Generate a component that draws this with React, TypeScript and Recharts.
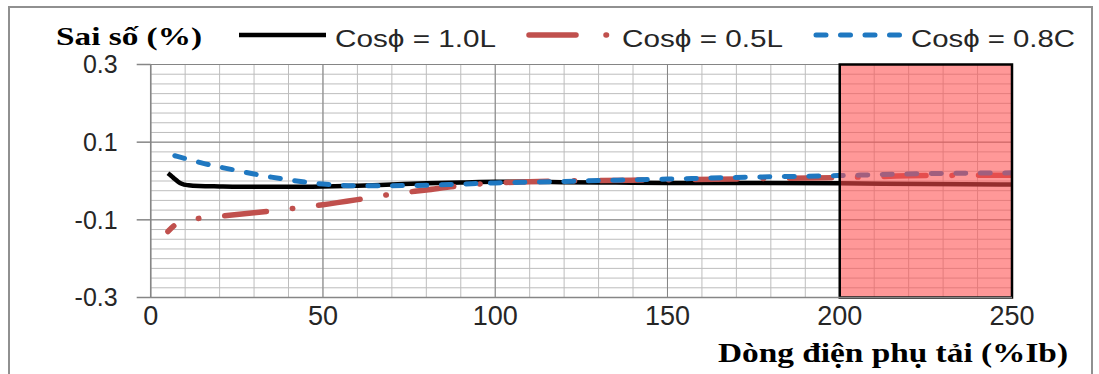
import React from "react";
import { LineChart, Line, XAxis, YAxis, CartesianGrid, ReferenceArea } from "recharts";

// Cosϕ = 1.0L
const blackX = [5, 6, 7, 8, 9, 11, 14, 20, 30, 40, 50, 60, 70, 80, 90, 100, 110, 120, 135, 150, 175, 200, 225, 250];
const blackY = [0.02, 0.013, 0.005, -0.002, -0.007, -0.011, -0.013, -0.014, -0.015, -0.015, -0.014, -0.012, -0.009, -0.006, -0.004, -0.002, -0.002, -0.003, -0.004, -0.005, -0.005, -0.006, -0.008, -0.009];
// Cosϕ = 0.5L
const redX = [5, 8, 10, 15, 20, 30, 40, 50, 60, 70, 80, 90, 100, 110, 120, 150, 175, 200, 225, 250];
const redY = [-0.13, -0.108, -0.103, -0.095, -0.091, -0.082, -0.072, -0.061, -0.048, -0.034, -0.023, -0.012, -0.005, -0.002, 0.0, 0.003, 0.006, 0.009, 0.014, 0.015];
// Cosϕ = 0.8C
const blueX = [7, 10, 15, 20, 25, 30, 35, 40, 45, 50, 55, 60, 70, 80, 90, 100, 110, 120, 130, 150, 175, 200, 225, 250];
const blueY = [0.065, 0.058, 0.046, 0.036, 0.027, 0.018, 0.01, 0.003, -0.003, -0.008, -0.011, -0.012, -0.012, -0.011, -0.008, -0.005, -0.003, -0.001, 0.001, 0.005, 0.01, 0.014, 0.019, 0.021];

const xMajorTicks = [0, 50, 100, 150, 200, 250];
const xMinorTicks = [0, 10, 20, 30, 40, 50, 60, 70, 80, 90, 100, 110, 120, 130, 140, 150, 160, 170, 180, 190, 200, 210, 220, 230, 240, 250];
const yMajorTicks = [-0.3, -0.1, 0.1, 0.3];
const yMinorTicks = [-0.3, -0.275, -0.25, -0.225, -0.2, -0.175, -0.15, -0.125, -0.1, -0.075, -0.05, -0.025, 0, 0.025, 0.05, 0.075, 0.1, 0.125, 0.15, 0.175, 0.2, 0.225, 0.25, 0.275, 0.3];

const zoneStart = 200;
const zoneEnd = 250;

const toPoints = (xs: number[], ys: number[]) => xs.map((x, i) => ({ x, y: ys[i] }));
const blackData = toPoints(blackX, blackY);
const redData = toPoints(redX, redY);
const blueData = toPoints(blueX, blueY);

const SANS = "'Liberation Sans', Arial, sans-serif";
const SERIF = "'Liberation Serif', 'Times New Roman', serif";
const BLACK = "#000000";
const RED = "#c0504d";
const BLUE = "#1f78c1";
const AXIS = "#868686";

const isMajor = (list: number[], v: number) => list.some((m) => Math.abs(m - v) < 1e-9);

const YTick = (props: any) => {
  const { x, y, payload } = props;
  const v = Number(payload.value);
  if (!isMajor(yMajorTicks, v)) return null;
  return (
    <g>
      <line x1={x + 19} y1={y} x2={x + 33} y2={y} stroke={AXIS} strokeWidth={1.5} />
      <text x={x} y={y} dy="0.355em" textAnchor="end" fontSize={25} fill="#262626" fontFamily={SANS}>
        {v.toFixed(1)}
      </text>
    </g>
  );
};

const XTick = (props: any) => {
  const { x, y, payload } = props;
  const v = Number(payload.value);
  if (!isMajor(xMajorTicks, v)) return null;
  return (
    <text x={x} y={y} dy="0.71em" textAnchor="middle" fontSize={27} fill="#262626" fontFamily={SANS}>
      {String(v)}
    </text>
  );
};

export default function App() {
  return (
    <div style={{ position: "absolute", left: 0, top: 0, width: 1099, height: 374, overflow: "hidden", background: "#fff" }}>
      <div style={{ position: "absolute", left: 8, top: 6, width: 1081, height: 380, border: "2px solid #909090" }} />
      <div style={{ position: "absolute", left: 0, top: 0 }}>
        <LineChart width={1099} height={374} margin={{ top: 64.5, right: 87, bottom: 46.5, left: 0 }}>
          <CartesianGrid stroke="#bdbdbd" strokeWidth={1} />
          <CartesianGrid stroke="#858585" strokeWidth={1} horizontalValues={yMajorTicks} verticalValues={xMajorTicks} />
          <XAxis
            type="number"
            dataKey="x"
            domain={[0, 250]}
            ticks={xMinorTicks}
            interval={0}
            height={30}
            tickLine={false}
            tickSize={0}
            tickMargin={8}
            axisLine={{ stroke: AXIS, strokeWidth: 1.5 }}
            tick={<XTick />}
            allowDataOverflow
          />
          <YAxis
            type="number"
            domain={[-0.3, 0.3]}
            ticks={yMinorTicks}
            interval={0}
            width={150.7}
            tickSize={14}
            tickMargin={19}
            tickLine={false}
            axisLine={{ stroke: AXIS, strokeWidth: 1.5 }}
            tick={<YTick />}
            allowDataOverflow
          />
          <Line data={blackData} dataKey="y" type="monotone" stroke={BLACK} strokeWidth={4.5} dot={false} activeDot={false} isAnimationActive={false} />
          <Line
            data={redData}
            dataKey="y"
            type="monotone"
            stroke={RED}
            strokeWidth={5.5}
            strokeDasharray="42 26 0.5 26"
            strokeDashoffset={34}
            strokeLinecap="round"
            dot={false}
            activeDot={false}
            isAnimationActive={false}
          />
          <Line
            data={blueData}
            dataKey="y"
            type="monotone"
            stroke={BLUE}
            strokeWidth={5}
            strokeDasharray="10 14.5"
            strokeLinecap="round"
            dot={false}
            activeDot={false}
            isAnimationActive={false}
          />
          <ReferenceArea
            x1={zoneStart}
            x2={zoneEnd}
            y1={-0.3}
            y2={0.3}
            fill="#ff4d4d"
            fillOpacity={0.58}
            stroke="#000"
            strokeWidth={2.5}
            zIndex={450}
          />
        </LineChart>
      </div>
      <svg width={1099} height={374} style={{ position: "absolute", left: 0, top: 0, pointerEvents: "none" }}>
        <text x={56} y={45} fontFamily={SERIF} fontWeight="bold" fontSize={25} fill="#000" textLength={146} lengthAdjust="spacingAndGlyphs">
          Sai số (%)
        </text>
        <line x1={239} y1={35} x2={326} y2={35} stroke={BLACK} strokeWidth={4.5} />
        <text x={335} y={47} fontFamily={SANS} fontSize={24} fill="#262626" textLength={161} lengthAdjust="spacingAndGlyphs">
          Cosϕ = 1.0L
        </text>
        <line x1={529} y1={35} x2={576} y2={35} stroke={RED} strokeWidth={5.5} strokeLinecap="round" />
        <line x1={606} y1={35} x2={606.5} y2={35} stroke={RED} strokeWidth={5.5} strokeLinecap="round" />
        <text x={622} y={47} fontFamily={SANS} fontSize={24} fill="#262626" textLength={161} lengthAdjust="spacingAndGlyphs">
          Cosϕ = 0.5L
        </text>
        <line x1={816} y1={35} x2={906} y2={35} stroke={BLUE} strokeWidth={5} strokeDasharray="10 14.5" strokeLinecap="round" />
        <text x={911} y={47} fontFamily={SANS} fontSize={24} fill="#262626" textLength={164} lengthAdjust="spacingAndGlyphs">
          Cosϕ = 0.8C
        </text>
        <text x={718} y={362} fontFamily={SERIF} fontWeight="bold" fontSize={28} fill="#000" textLength={350} lengthAdjust="spacingAndGlyphs">
          Dòng điện phụ tải (%Ib)
        </text>
      </svg>
    </div>
  );
}
